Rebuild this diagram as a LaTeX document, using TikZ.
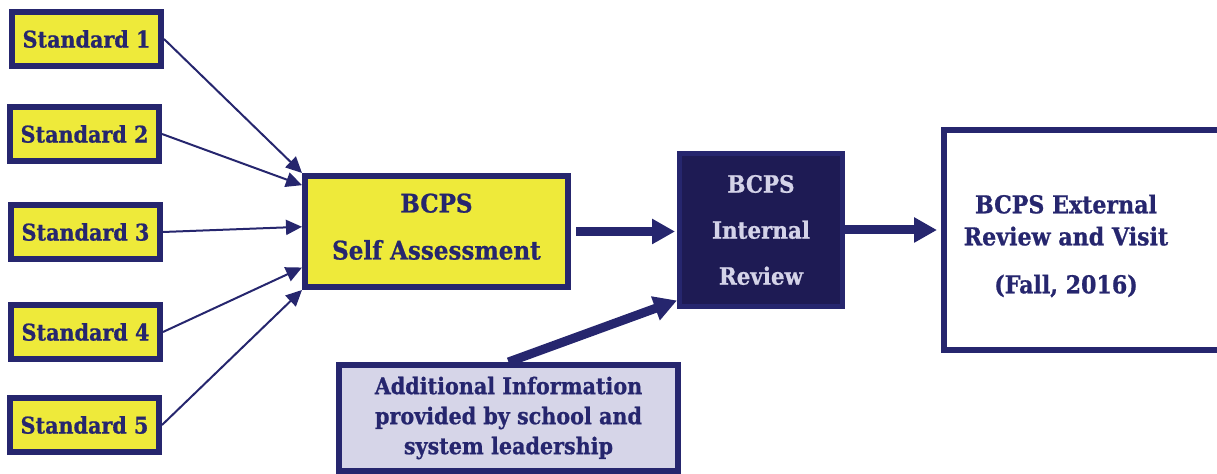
\documentclass[tikz,border=0pt]{standalone}
\usepackage{fontspec}
\setmainfont{DejaVu Serif Condensed}[BoldFeatures={FakeBold=0.8}]
\usetikzlibrary{arrows.meta,positioning,calc}
\definecolor{bcpsnavy}{RGB}{38,38,110}
\definecolor{bcpsdark}{RGB}{30,27,84}
\definecolor{bcpsyellow}{RGB}{238,234,58}
\definecolor{bcpslilac}{RGB}{214,213,232}
\definecolor{bcpspale}{RGB}{212,211,232}
\tikzset{
  mystd/.style = {rectangle, draw=bcpsnavy, line width=3pt, fill=bcpsyellow, text=bcpsnavy, minimum width=74.5pt, minimum height=27pt, align=center, font=\bfseries\fontsize{11.5}{14}\selectfont},
  myself/.style = {mystd, minimum width=131.5pt, minimum height=55.5pt, font=\bfseries\fontsize{12.8}{23.5}\selectfont},
  myintl/.style = {rectangle, draw=bcpsnavy, line width=2.5pt, fill=bcpsdark, text=bcpspale, minimum width=81.5pt, minimum height=76.5pt, align=center, font=\bfseries\fontsize{11.9}{23}\selectfont},
  myext/.style = {rectangle, draw=bcpsnavy, line width=3pt, fill=white, minimum width=141pt, minimum height=110pt},
  myadd/.style = {rectangle, draw=bcpsnavy, line width=3pt, fill=bcpslilac, text=bcpsnavy, minimum width=169.5pt, minimum height=53pt, align=center, font=\bfseries\fontsize{11.5}{15}\selectfont},
  mytext/.style = {text=bcpsnavy, align=center, font=\bfseries\fontsize{12.3}{16}\selectfont},
  mythin/.style = {-{Triangle[length=8pt,width=7.5pt]}, line width=1pt, draw=bcpsnavy},
  mythick/.style = {-{Triangle[length=11.5pt,width=12pt]}, line width=4.5pt, draw=bcpsnavy},
}
\begin{document}
\begin{tikzpicture}[x=0.5pt,y=-0.5pt]
\useasboundingbox (0,0) rectangle (1217,474);
\node[mystd] (s1) at (86.5,39) {Standard 1};
\node[mystd] (s2) at (84.5,134) {Standard 2};
\node[mystd] (s3) at (85.5,232) {Standard 3};
\node[mystd] (s4) at (85.5,332) {Standard 4};
\node[mystd] (s5) at (84.5,425) {Standard 5};
\node[myself] (self) at (436.5,231.5) {BCPS\\Self Assessment\rule[-5pt]{0pt}{5pt}};
\node[myintl] (intl) at (761,230) {BCPS\\Internal\\Review};
\node[myext] (ext) at (1085,240) {};
\node[mytext] (exttxt) at (1066,246) {BCPS External\\Review and Visit\\[8pt](Fall, 2016)};
\node[myadd] (add) at (508.5,418) {Additional Information\\provided by school and\\system leadership};
% standards into the self assessment
\draw[mythin] (s1.east) -- (self.north west);
\draw[mythin] (s2.east) -- (self.161.7);
\draw[mythin] (s3.east) -- (self.178);
\draw[mythin] (s4.east) -- (self.195.2);
\draw[mythin] (s5.east) -- (self.south west);
% main flow
\draw[mythick, shorten <=2.5pt, shorten >=1pt] (self.east) -- (self.east -| intl.west);
\draw[mythick, shorten >=2pt] (intl.east) -- (intl.east -| ext.west);
\draw[mythick] (add.north) -- (intl.220);
\end{tikzpicture}
\end{document}
